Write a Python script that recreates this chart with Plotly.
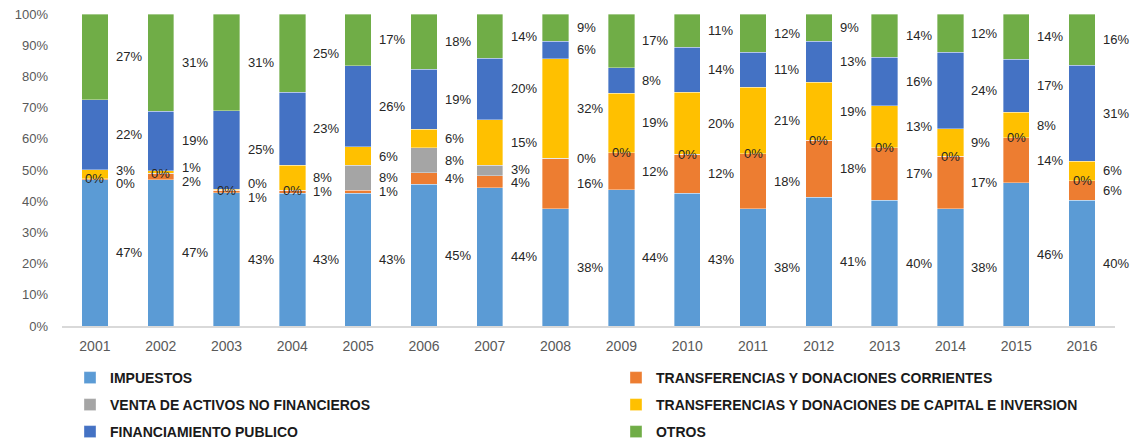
import plotly.graph_objects as go

years = ["2001", "2002", "2003", "2004", "2005", "2006", "2007", "2008",
         "2009", "2010", "2011", "2012", "2013", "2014", "2015", "2016"]

impuestos = [46.7, 46.8, 42.6, 42.6, 42.6, 45.4, 44.3, 37.6, 43.6, 42.6, 37.6, 41.3, 40.3, 37.6, 45.7, 40.3]
transf_corrientes = [0.4, 2.0, 0.9, 0.9, 0.9, 3.7, 3.8, 16.1, 12.0, 12.4, 17.6, 18.2, 16.9, 16.8, 14.4, 6.3]
venta_activos = [0.0, 0.2, 0.0, 0.1, 8.0, 8.0, 3.3, 0.1, 0.0, 0.0, 0.0, 0.0, 0.0, 0.0, 0.0, 0.0]
transf_capital = [2.8, 0.7, 0.3, 8.0, 6.0, 5.9, 14.7, 32.1, 19.0, 20.0, 21.4, 18.6, 13.4, 8.8, 8.2, 6.2]
financiamiento = [22.4, 19.2, 25.2, 23.4, 26.0, 19.2, 19.6, 5.6, 8.2, 14.4, 11.2, 13.2, 15.6, 24.4, 17.0, 30.8]
otros = [27.4, 31.1, 30.9, 25.1, 16.6, 17.7, 14.2, 8.7, 17.2, 10.6, 12.3, 8.7, 13.8, 12.3, 14.4, 16.4]

series_names = [
    "IMPUESTOS",
    "TRANSFERENCIAS Y DONACIONES CORRIENTES",
    "VENTA DE ACTIVOS NO FINANCIEROS",
    "TRANSFERENCIAS Y DONACIONES DE CAPITAL E INVERSION",
    "FINANCIAMIENTO PUBLICO",
    "OTROS",
]
series_values = [impuestos, transf_corrientes, venta_activos, transf_capital, financiamiento, otros]
colors = ["#5B9BD5", "#ED7D31", "#A5A5A5", "#FFC000", "#4472C4", "#70AD47"]

# legend placement: two columns x three rows (paper coordinates)
legend_cols = [0.0076, 0.5261]
legend_rows = [-0.1667, -0.2532, -0.3397]

fig = go.Figure()
legend_layout = {}
for k, (name, vals, col) in enumerate(zip(series_names, series_values, colors)):
    lid = "legend" if k == 0 else f"legend{k + 1}"
    fig.add_trace(go.Bar(
        x=years, y=vals, name=name, legend=lid, showlegend=True,
        marker=dict(color=col, line=dict(color="rgba(255,255,255,0.6)", width=0.6)),
        hoverinfo="x+y+name",
    ))
    legend_layout[lid] = dict(
        visible=True, orientation="v", xref="paper", yref="paper",
        x=legend_cols[k % 2], y=legend_rows[k // 2], xanchor="left", yanchor="middle",
        itemwidth=30, bgcolor="rgba(0,0,0,0)", traceorder="normal",
        itemclick=False, itemdoubleclick=False,
        font=dict(family="Liberation Sans, Arial", size=14, color="#1a1a1a", weight="bold"),
    )

# Data labels (annotations placed using the category index on the x axis)
label_font = dict(family="Liberation Sans, Arial", size=13, color="#262626")
annotations = []
min_gap = 4.3
for i, yr in enumerate(years):
    total = sum(v[i] for v in series_values)
    cum = 0.0
    right_items = []
    for s, vals in enumerate(series_values):
        v = vals[i]
        h = v / total * 100.0
        mid = cum + h / 2.0
        txt = f"{round(v):d}%"
        if s == 2 and round(v) == 0 and yr != "2008":
            annotations.append(dict(x=i, y=mid, xref="x", yref="y", text=txt,
                                    showarrow=False, xanchor="center", yanchor="middle",
                                    font=label_font))
        else:
            right_items.append([mid, txt])
        cum += h
    # spread overlapping right-hand labels apart symmetrically
    for _ in range(100):
        moved = False
        for a in range(len(right_items) - 1):
            lo, hi = right_items[a], right_items[a + 1]
            gap = hi[0] - lo[0]
            if gap < min_gap - 1e-6:
                d = (min_gap - gap) / 2.0
                lo[0] -= d
                hi[0] += d
                moved = True
        if not moved:
            break
    for ypos, txt in right_items:
        annotations.append(dict(x=i, y=ypos, xref="x", yref="y", text=txt,
                                showarrow=False, xanchor="left", yanchor="middle",
                                xshift=19, font=label_font))

fig.update_layout(
    width=1130, height=444,
    margin=dict(l=62, r=15, t=14, b=118, autoexpand=False),
    paper_bgcolor="white", plot_bgcolor="white",
    barmode="stack", barnorm="percent", bargap=0.6,
    showlegend=True,
    annotations=annotations,
    xaxis=dict(type="category", range=[-0.5, 15.5], autorange=False,
               showgrid=False, showline=True, linecolor="#d9d9d9", linewidth=1.5,
               ticks="", tickfont=dict(family="Liberation Sans, Arial", size=14, color="#595959"),
               ticklabelstandoff=6),
    yaxis=dict(range=[0, 100], autorange=False, dtick=10, ticksuffix="%", showgrid=False,
               showline=False, zeroline=False, ticks="",
               tickfont=dict(family="Liberation Sans, Arial", size=13, color="#595959"),
               ticklabelstandoff=13),
    **legend_layout,
)

fig.write_html("out.html", config={"displayModeBar": False},
               post_script="document.body.style.margin='0px';")
